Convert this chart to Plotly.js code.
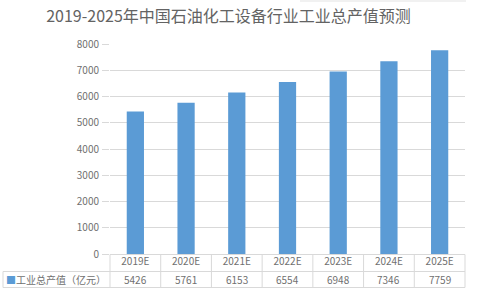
<!DOCTYPE html>
<html>
<head>
<meta charset="utf-8">
<script src="https://cdn.plot.ly/plotly-3.0.1.min.js"></script>
<style>html,body{margin:0;padding:0;background:#fff;}#chart{width:479px;height:302px;}</style>
</head>
<body>
<div id="chart"></div>
<script>
const categories = ["2019E", "2020E", "2021E", "2022E", "2023E", "2024E", "2025E"];
const values = [5426, 5761, 6153, 6554, 6948, 7346, 7759];
const seriesName = "工业总产值（亿元）";
const titleText = "2019-2025年中国石油化工设备行业工业总产值预测";
const yTicks = [0, 1000, 2000, 3000, 4000, 5000, 6000, 7000, 8000];

const W = 479, H = 302;
const M = {l: 110, r: 14, t: 44, b: 48};
const plotW = W - M.l - M.r, plotH = H - M.t - M.b;
const FONT = '"Noto Sans CJK SC", "Noto Sans", sans-serif';
const GRID = '#d9d9d9';
const TXT = '#707070';
const BAR = '#5b9bd5';

// pixel -> paper helpers (layout only)
const px = x => (x - M.l) / plotW;
const py = y => (H - M.b - y) / plotH;

const n = categories.length;
const shapes = [];
const line = {color: GRID, width: 1};
// table horizontal lines
shapes.push({type: 'line', xref: 'paper', yref: 'paper', x0: 0, x1: 1, y0: py(254.5), y1: py(254.5), line});
shapes.push({type: 'line', xref: 'paper', yref: 'paper', x0: px(3), x1: 1, y0: py(271.5), y1: py(271.5), line});
shapes.push({type: 'line', xref: 'paper', yref: 'paper', x0: px(3), x1: 1, y0: py(287.5), y1: py(287.5), line});
// table vertical lines at category boundaries
for (let i = 0; i <= n; i++) {
  shapes.push({type: 'line', xref: 'paper', yref: 'paper', x0: i / n, x1: i / n, y0: py(254.5), y1: py(287.5), line});
}
shapes.push({type: 'line', xref: 'paper', yref: 'paper', x0: px(3), x1: px(3), y0: py(271.5), y1: py(287.5), line});
// faint frame piece at top right
shapes.push({type: 'line', xref: 'paper', yref: 'paper', x0: px(300), x1: px(466), y0: py(1), y1: py(1), line: {color: '#e3e3e3', width: 1}});

const annotations = [];
categories.forEach((c, i) => {
  annotations.push({
    x: c, xref: 'x', y: py(279.5), yref: 'paper',
    text: String(values[i]), showarrow: false, xanchor: 'center', yanchor: 'middle',
    font: {family: FONT, size: 10, color: TXT}
  });
});
annotations.push({
  x: px(4), xref: 'paper', y: py(279.5), yref: 'paper',
  text: '<span style="color:' + BAR + '">■</span>' + seriesName,
  showarrow: false, xanchor: 'left', yanchor: 'middle',
  font: {family: FONT, size: 10, color: TXT}
});

const trace = {
  type: 'bar', x: categories, y: values, name: seriesName,
  marker: {color: BAR}, width: 0.34, hoverinfo: 'skip'
};

const layout = {
  width: W, height: H,
  margin: M,
  paper_bgcolor: '#fff', plot_bgcolor: '#fff',
  showlegend: false,
  title: {
    text: titleText, x: 228.5 / W, xanchor: 'center', xref: 'container',
    y: 1 - 16 / H, yanchor: 'middle', yref: 'container',
    font: {family: FONT, size: 16, color: '#636363'}
  },
  xaxis: {
    type: 'category', range: [-0.5, n - 0.5], showgrid: false, zeroline: false,
    showline: false, ticks: '', tickfont: {family: FONT, size: 10, color: TXT},
    fixedrange: true
  },
  yaxis: {
    range: [0, 8000], tickvals: yTicks, showgrid: true, gridcolor: GRID, gridwidth: 1,
    zeroline: false, showline: false, ticks: 'outside', ticklen: 7, tickcolor: GRID, tickwidth: 1,
    tickfont: {family: FONT, size: 10, color: TXT}, ticklabelstandoff: 1,
    fixedrange: true
  },
  bargap: 0.66,
  shapes, annotations
};

Plotly.newPlot('chart', [trace], layout, {displayModeBar: false, staticPlot: true});
</script>
</body>
</html>
